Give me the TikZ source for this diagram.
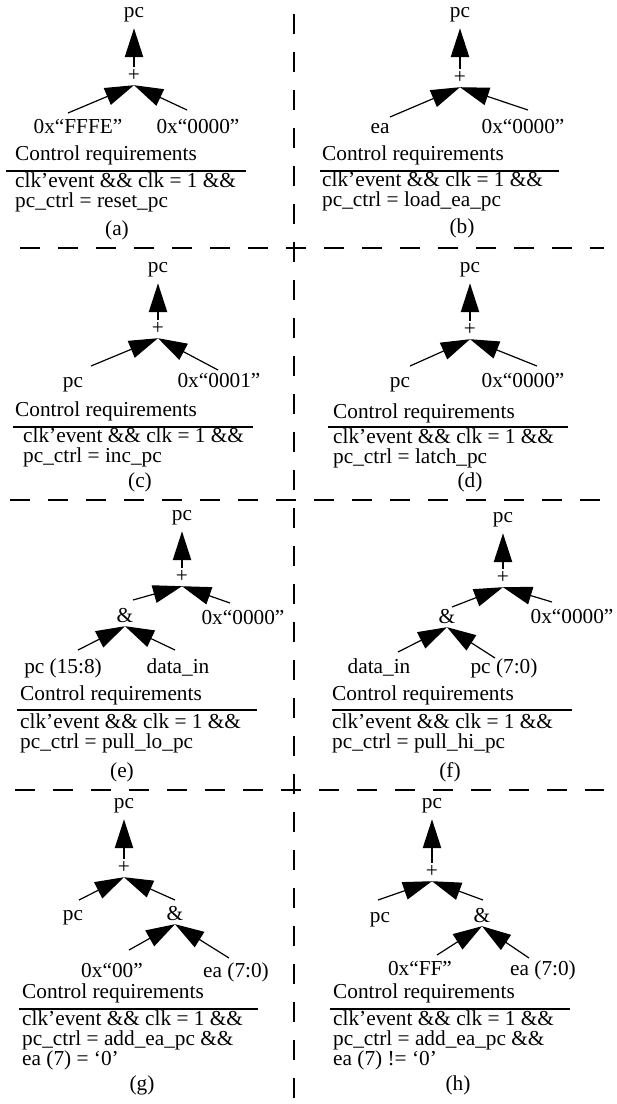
\documentclass[tikz,border=0pt]{standalone}
\usepackage{fontspec}
\setmainfont{Liberation Serif}
\usetikzlibrary{arrows.meta}
\newcommand\diafont{\fontsize{21.3pt}{22pt}\selectfont}
\begin{document}
\begin{tikzpicture}[x=1pt,y=-1pt,
  lbl/.style={inner sep=0pt, text height=14pt, text depth=4pt, font=\diafont},
  txt/.style={lbl, anchor=west},
  blk/.style={inner sep=0pt, anchor=base west, align=left, font=\fontsize{21.3pt}{#1}\selectfont},
  edge/.style={line width=1.2pt, -{Triangle[length=29pt,width=18pt]}},
  stem/.style={line width=2.6pt, -{Triangle[length=29pt,width=18pt]}, shorten >=7pt},
  rulel/.style={line width=1.5pt},
  sepline/.style={line width=2pt, dash pattern=on 20pt off 18pt}]
\useasboundingbox (0,0) rectangle (617,1104);

% separators
\draw[sepline] (294,14) -- (294,1104);
\draw[sepline] (20,248) -- (604,248);
\draw[sepline] (10,500) -- (604,500);
\draw[sepline] (15,790) -- (604,790);

% ---------------- (a)
\node[lbl] (a-pc) at (134,12) {pc};
\node[lbl] (a-p) at (134,76) {+};
\node[lbl] (a-l) at (78,128) {0x“FFFE”};
\node[lbl] (a-r) at (198,128) {0x“0000”};
\coordinate (a-ls) at (68,113);
\coordinate (a-rs) at (187,110);
\draw[stem] (a-p) -- (a-pc);
\draw[edge] (a-ls) -- (a-p.south);
\draw[edge] (a-rs) -- (a-p.south);
\node[txt] (a-cr) at (15,155) {Control requirements};
\draw[rulel] (6,171) -- (246,171);
\node[blk=20pt] (a-c) at (15,207) {clk’event \&\& clk = 1 \&\&\\pc\_ctrl = reset\_pc};
\node[lbl] (a-cap) at (117,230) {(a)};

% ---------------- (b)
\node[lbl] (b-pc) at (460,12) {pc};
\node[lbl] (b-p) at (460,78) {+};
\node[lbl] (b-l) at (380,128) {ea};
\node[lbl] (b-r) at (523,128) {0x“0000”};
\coordinate (b-ls) at (390,117);
\coordinate (b-rs) at (528,110);
\draw[stem] (b-p) -- (b-pc);
\draw[edge] (b-ls) -- (b-p.south);
\draw[edge] (b-rs) -- (b-p.south);
\node[txt] (b-cr) at (322,155) {Control requirements};
\draw[rulel] (320,171) -- (559,171);
\node[blk=20pt] (b-c) at (322,206) {clk’event \&\& clk = 1 \&\&\\pc\_ctrl = load\_ea\_pc};
\node[lbl] (b-cap) at (462,228) {(b)};

% ---------------- (c)
\node[lbl] (c-pc) at (158,267) {pc};
\node[lbl] (c-p) at (158,329) {+};
\node[lbl] (c-l) at (73,382) {pc};
\node[lbl] (c-r) at (219,382) {0x“0001”};
\coordinate (c-ls) at (91,366);
\coordinate (c-rs) at (218,370);
\draw[stem] (c-p) -- (c-pc);
\draw[edge] (c-ls) -- (c-p.south);
\draw[edge] (c-rs) -- (c-p.south);
\node[txt] (c-cr) at (15,411) {Control requirements};
\draw[rulel] (13,427) -- (253,427);
\node[blk=20pt] (c-c) at (23,462) {clk’event \&\& clk = 1 \&\&\\pc\_ctrl = inc\_pc};
\node[lbl] (c-cap) at (140,482) {(c)};

% ---------------- (d)
\node[lbl] (d-pc) at (470,267) {pc};
\node[lbl] (d-p) at (470,330) {+};
\node[lbl] (d-l) at (400,382) {pc};
\node[lbl] (d-r) at (523,382) {0x“0000”};
\coordinate (d-ls) at (410,366);
\coordinate (d-rs) at (537,366);
\draw[stem] (d-p) -- (d-pc);
\draw[edge] (d-ls) -- (d-p.south);
\draw[edge] (d-rs) -- (d-p.south);
\node[txt] (d-cr) at (333,413) {Control requirements};
\draw[rulel] (328,427) -- (568,427);
\node[blk=20pt] (d-c) at (333,463) {clk’event \&\& clk = 1 \&\&\\pc\_ctrl = latch\_pc};
\node[lbl] (d-cap) at (470,482) {(d)};

% ---------------- (e)
\node[lbl] (e-pc) at (182,515) {pc};
\node[lbl] (e-p) at (182,577) {+};
\node[lbl] (e-a) at (125,617) {\&};
\node[lbl] (e-r) at (243,619) {0x“0000”};
\coordinate (e-as) at (133,600);
\coordinate (e-rs) at (230,603);
\draw[stem] (e-p) -- (e-pc);
\draw[edge] (e-as) -- (e-p.south);
\draw[edge] (e-rs) -- (e-p.south);
\node[lbl] (e-al) at (63,668) {pc (15:8)};
\node[lbl] (e-ar) at (178,668) {data\_in};
\coordinate (e-als) at (78,650);
\coordinate (e-ars) at (175,650);
\draw[edge] (e-als) -- (e-a.south);
\draw[edge] (e-ars) -- (e-a.south);
\node[txt] (e-cr) at (20,695) {Control requirements};
\draw[rulel] (17,710) -- (257,710);
\node[blk=20pt] (e-c) at (20,748) {clk’event \&\& clk = 1 \&\&\\pc\_ctrl = pull\_lo\_pc};
\node[lbl] (e-cap) at (122,772) {(e)};

% ---------------- (f)
\node[lbl] (f-pc) at (503,517) {pc};
\node[lbl] (f-p) at (503,578) {+};
\node[lbl] (f-a) at (447,618) {\&};
\node[lbl] (f-r) at (572,618) {0x“0000”};
\coordinate (f-as) at (452,607);
\coordinate (f-rs) at (552,602);
\draw[stem] (f-p) -- (f-pc);
\draw[edge] (f-as) -- (f-p.south);
\draw[edge] (f-rs) -- (f-p.south);
\node[lbl] (f-al) at (379,668) {data\_in};
\node[lbl] (f-ar) at (504,668) {pc (7:0)};
\coordinate (f-als) at (398,652);
\coordinate (f-ars) at (495,658);
\draw[edge] (f-als) -- (f-a.south);
\draw[edge] (f-ars) -- (f-a.south);
\node[txt] (f-cr) at (332,695) {Control requirements};
\draw[rulel] (332,710) -- (572,710);
\node[blk=20pt] (f-c) at (332,748) {clk’event \&\& clk = 1 \&\&\\pc\_ctrl = pull\_hi\_pc};
\node[lbl] (f-cap) at (450,772) {(f)};

% ---------------- (g)
\node[lbl] (g-pc) at (124,803) {pc};
\node[lbl] (g-p) at (124,868) {+};
\node[lbl] (g-l) at (73,915) {pc};
\node[lbl] (g-a) at (175,915) {\&};
\coordinate (g-ls) at (79,900);
\coordinate (g-as) at (175,900);
\draw[stem] (g-p) -- (g-pc);
\draw[edge] (g-ls) -- (g-p.south);
\draw[edge] (g-as) -- (g-p.south);
\node[lbl] (g-al) at (112,972) {0x“00”};
\node[lbl] (g-ar) at (236,972) {ea (7:0)};
\coordinate (g-als) at (129,950);
\coordinate (g-ars) at (229,958);
\draw[edge] (g-als) -- (g-a.south);
\draw[edge] (g-ars) -- (g-a.south);
\node[txt] (g-cr) at (22,993) {Control requirements};
\draw[rulel] (19,1009) -- (258,1009);
\node[blk=20pt] (g-c) at (22,1065) {clk’event \&\& clk = 1 \&\&\\pc\_ctrl = add\_ea\_pc \&\&\\ea (7) = ‘0’};
\node[lbl] (g-cap) at (142,1085) {(g)};

% ---------------- (h)
\node[lbl] (h-pc) at (432,803) {pc};
\node[lbl] (h-p) at (432,872) {+};
\node[lbl] (h-l) at (380,917) {pc};
\node[lbl] (h-a) at (482,917) {\&};
\coordinate (h-ls) at (378,900);
\coordinate (h-as) at (483,900);
\draw[stem] (h-p) -- (h-pc);
\draw[edge] (h-ls) -- (h-p.south);
\draw[edge] (h-as) -- (h-p.south);
\node[lbl] (h-al) at (420,970) {0x“FF”};
\node[lbl] (h-ar) at (543,970) {ea (7:0)};
\coordinate (h-als) at (437,955);
\coordinate (h-ars) at (529,958);
\draw[edge] (h-als) -- (h-a.south);
\draw[edge] (h-ars) -- (h-a.south);
\node[txt] (h-cr) at (333,993) {Control requirements};
\draw[rulel] (330,1009) -- (570,1009);
\node[blk=20pt] (h-c) at (333,1065) {clk’event \&\& clk = 1 \&\&\\pc\_ctrl = add\_ea\_pc \&\&\\ea (7) != ‘0’};
\node[lbl] (h-cap) at (458,1085) {(h)};
\end{tikzpicture}
\end{document}
